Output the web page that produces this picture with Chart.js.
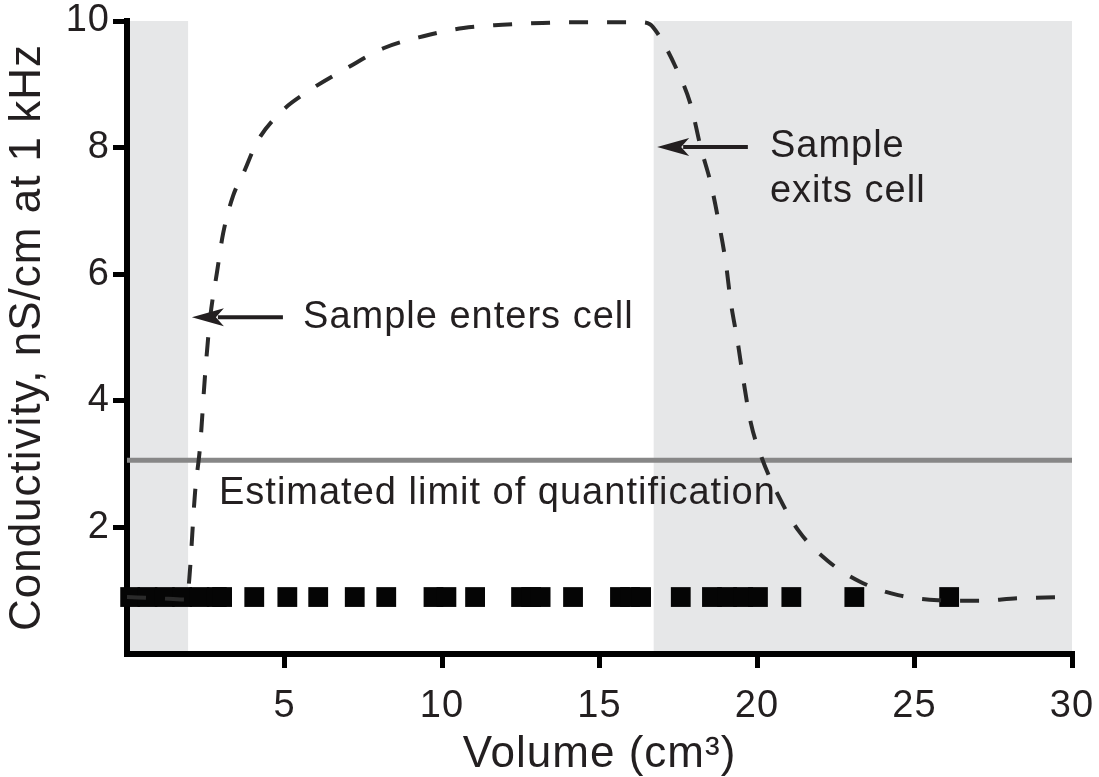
<!DOCTYPE html>
<html><head><meta charset="utf-8">
<script src="https://cdn.jsdelivr.net/npm/chart.js@4.4.1/dist/chart.umd.min.js"></script>
<style>html,body{margin:0;padding:0;background:#fff;}#wrap{width:1099px;height:777px;position:relative;}</style>
</head><body><div id="wrap"><canvas id="c"></canvas></div>
<script>
// ---- data ----
const curveX = [0, 1.0, 1.9, 1.98, 2.16, 2.32, 2.48, 2.64, 2.86, 3.05, 3.37, 3.7, 4.13, 4.86, 5.72, 7.03, 8.14, 9.41, 10.68, 11.92, 13.19, 14.46, 15.73, 16.3, 16.6, 16.85, 17.42, 17.9, 18.21, 18.53, 18.79, 19.01, 19.17, 19.39, 19.58, 19.8, 20.15, 20.69, 21.33, 22.25, 23.24, 24.48, 25.75, 27.02, 28.29, 30];
const curveY = [0.9, 0.88, 0.86, 1.2, 2.55, 3.28, 4.42, 5.31, 6.04, 6.64, 7.24, 7.6, 8.09, 8.55, 8.88, 9.27, 9.57, 9.76, 9.89, 9.94, 9.97, 9.98, 9.98, 9.98, 9.95, 9.8, 9.27, 8.67, 8.01, 7.44, 6.81, 6.18, 5.55, 4.92, 4.29, 3.66, 3.1, 2.49, 1.94, 1.47, 1.15, 0.93, 0.85, 0.84, 0.88, 0.9];
const blankX = [0.1, 0.65, 1.2, 1.75, 2.3, 2.85, 3.02, 4.04, 5.09, 6.07, 7.23, 8.23, 9.73, 10.14, 11.05, 12.51, 12.83, 13.13, 14.16, 15.65, 15.97, 16.32, 17.58, 18.57, 19.05, 19.56, 20.03, 21.09, 23.09, 26.1];
const blankY = [0.9, 0.9, 0.9, 0.9, 0.9, 0.9, 0.9, 0.9, 0.9, 0.9, 0.9, 0.9, 0.9, 0.9, 0.9, 0.9, 0.9, 0.9, 0.9, 0.9, 0.9, 0.9, 0.9, 0.9, 0.9, 0.9, 0.9, 0.9, 0.9, 0.9];
const loqX = [0, 30];
const loqY = [3.06, 3.06];
const shadeStart = [0, 16.72];
const shadeEnd = [1.94, 30];
const xTickValues = [5, 10, 15, 20, 25, 30];
const yTickValues = [2, 4, 6, 8, 10];
const xTitle = 'Volume (cm³)';
const yTitle = 'Conductivity, nS/cm at 1 kHz';
const noteTexts = ['Sample enters cell', 'Sample', 'exits cell', 'Estimated limit of quantification'];

// ---- styling ----
const FAMILY = "'Liberation Sans', Arial, Helvetica, sans-serif";
const TEXT = '#231f20';
const SPACING = '1px';

const pts = (xs, ys) => xs.map((x, i) => ({x: x, y: ys[i]}));

const spacingPlugin = {
  id: 'spacing',
  beforeUpdate(chart) { chart.ctx.letterSpacing = SPACING; },
  beforeLayout(chart) { chart.ctx.letterSpacing = SPACING; },
  beforeDraw(chart) {
    const {ctx, scales: {x, y}, chartArea} = chart;
    ctx.letterSpacing = SPACING;
    ctx.save();
    ctx.fillStyle = '#e6e7e8';
    for (let i = 0; i < shadeStart.length; i++) {
      const x1 = Math.max(x.getPixelForValue(shadeStart[i]), chartArea.left + 3);
      const x2 = x.getPixelForValue(shadeEnd[i]);
      const y1 = y.getPixelForValue(y.max);
      const y2 = y.getPixelForValue(y.min) - 3;
      ctx.fillRect(x1, y1, x2 - x1, y2 - y1);
    }
    ctx.restore();
  }
};

function arrow(ctx, tx, ty, hx, hy) {
  const head = 32, half = 9;
  ctx.beginPath();
  ctx.lineWidth = 4;
  ctx.moveTo(tx, ty);
  ctx.lineTo(hx + head - 6, hy);
  ctx.stroke();
  ctx.beginPath();
  ctx.moveTo(hx, hy);
  ctx.lineTo(hx + head, hy - half);
  ctx.lineTo(hx + head - 8, hy);
  ctx.lineTo(hx + head, hy + half);
  ctx.closePath();
  ctx.fill();
}

const notesPlugin = {
  id: 'notes',
  afterDatasetsDraw(chart) {
    const {ctx, scales: {x, y}} = chart;
    ctx.save();
    ctx.letterSpacing = SPACING;
    ctx.fillStyle = TEXT;
    ctx.strokeStyle = TEXT;
    ctx.font = '38px ' + FAMILY;
    ctx.textAlign = 'left';
    ctx.textBaseline = 'middle';
    const place = [[5.59, 5.32], [20.41, 8.01], [20.41, 7.3], [2.92, 2.53]];
    noteTexts.forEach((t, i) => {
      ctx.fillText(t, x.getPixelForValue(place[i][0]), y.getPixelForValue(place[i][1]));
    });
    arrow(ctx, x.getPixelForValue(4.95), y.getPixelForValue(5.32), x.getPixelForValue(2.06), y.getPixelForValue(5.32));
    arrow(ctx, x.getPixelForValue(19.71), y.getPixelForValue(8.01), x.getPixelForValue(16.83), y.getPixelForValue(8.01));
    ctx.restore();
  }
};

const tickFont = {family: FAMILY, size: 38};
const titleFont = {family: FAMILY, size: 44, lineHeight: 1.0};
const gridCfg = {drawOnChartArea: false, drawTicks: true, tickLength: 14, tickWidth: 5, tickColor: '#000', color: '#000', lineWidth: 5};

new Chart(document.getElementById('c'), {
  type: 'line',
  data: {
    datasets: [
      {label: 'Sample', data: pts(curveX, curveY), borderColor: '#2a2a2a', borderWidth: 4, borderDash: [19, 19],
       pointRadius: 0, cubicInterpolationMode: 'monotone', fill: false, order: 0, clip: false},
      {label: 'Blank', data: pts(blankX, blankY), showLine: false, pointStyle: 'rect', pointRadius: 14,
       backgroundColor: '#050505', borderWidth: 0, order: 1, clip: false},
      {label: 'LOQ', data: pts(loqX, loqY), borderColor: '#878787', borderWidth: 5, pointRadius: 0, fill: false, order: 2}
    ]
  },
  options: {
    responsive: true,
    maintainAspectRatio: false,
    animation: false,
    layout: {padding: {top: 21, right: 27, bottom: 0, left: 0}},
    plugins: {legend: {display: false}, tooltip: {enabled: false}},
    scales: {
      x: {
        type: 'linear', min: 0, max: 30,
        afterBuildTicks: s => { s.ticks = xTickValues.map(v => ({value: v})); },
        ticks: {font: tickFont, color: TEXT, padding: 16, maxRotation: 0, autoSkip: false},
        grid: gridCfg,
        border: {display: true, color: '#000', width: 6},
        title: {display: true, text: xTitle, font: titleFont, color: TEXT, padding: {top: 0, bottom: 0}},
        afterFit: s => { s.height = 123; s.paddingLeft = 0; s.paddingRight = 0; }
      },
      y: {
        type: 'linear', min: 0, max: 10,
        afterBuildTicks: s => { s.ticks = yTickValues.map(v => ({value: v})); },
        ticks: {font: tickFont, color: TEXT, padding: 3, autoSkip: false},
        grid: gridCfg,
        border: {display: true, color: '#000', width: 6},
        title: {display: true, text: yTitle, font: titleFont, color: TEXT, padding: {top: 6, bottom: 0}},
        afterFit: s => { s.width = 127; s.paddingTop = 0; s.paddingBottom = 0; }
      }
    }
  },
  plugins: [spacingPlugin, notesPlugin]
});
</script></body></html>
